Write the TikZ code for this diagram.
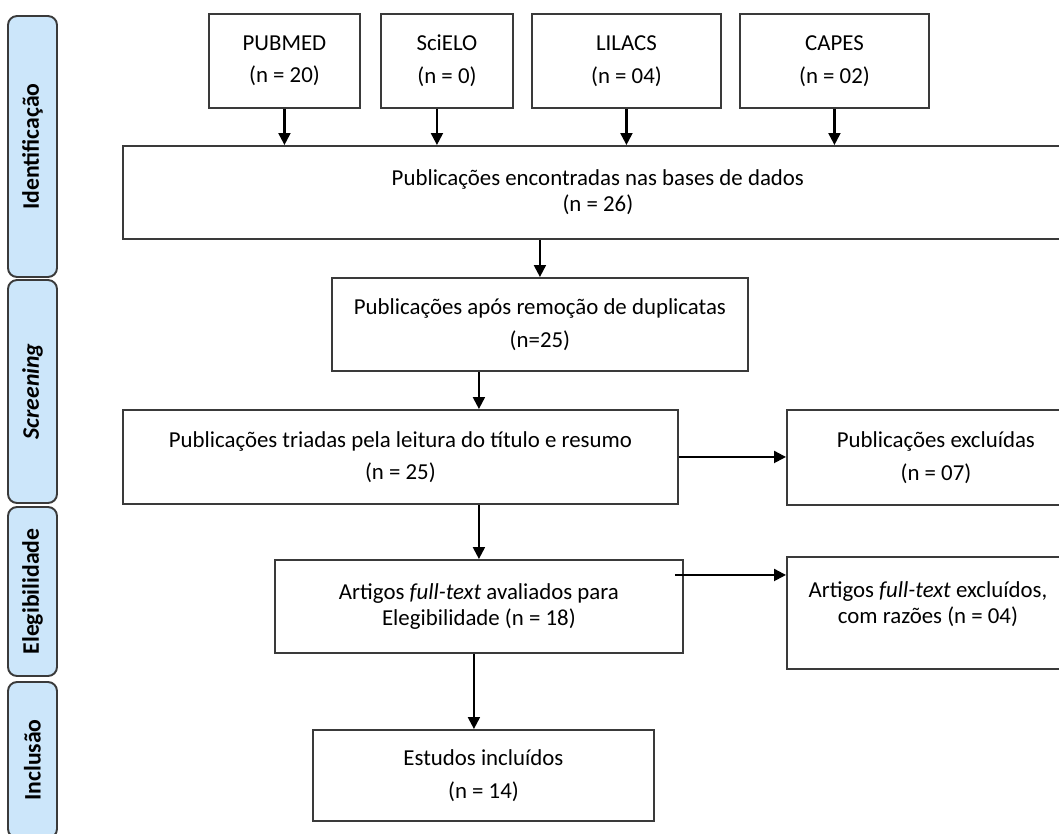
\documentclass[tikz,border=0pt]{standalone}
\usepackage{fontspec}
\setmainfont{Carlito}
\usetikzlibrary{shapes,arrows.meta,positioning}
\definecolor{stagefill}{HTML}{CCE6FA}
\definecolor{boxline}{HTML}{3A3A3A}

\begin{document}
\begin{tikzpicture}[x=0.02cm, y=-0.02cm,
block_box/.style ={rectangle, draw=boxline, line width=1.1pt, fill=white, align=center, anchor=north west, inner sep=0pt, font=\fontsize{13}{18.5}\selectfont},
block_tight/.style ={block_box, font=\fontsize{13}{15}\selectfont},
block_stage/.style ={rectangle, rounded corners=0.18cm, draw=boxline, line width=1.1pt, fill=stagefill, rotate=90, minimum height=0.98cm, inner sep=0pt, font=\fontsize{13.5}{16}\selectfont\bfseries},
line/.style ={draw=black, line width=1.2pt, -{Triangle[length=0.24cm,width=0.24cm]}}]
  \useasboundingbox (0,0) rectangle (1059,833);
  \clip (0,0) rectangle (1059,833);
  % stage bars on the left
    \node [block_stage, minimum width=5.22cm] (st_ident) at (32.5,146.5) {Identificação};
    \node [block_stage, minimum width=4.46cm] (st_screen) at (32.5,391.5) {\textit{Screening}};
    \node [block_stage, minimum width=3.38cm] (st_elig) at (32.5,591.5) {Elegibilidade};
    \node [block_stage, minimum width=3.12cm] (st_incl) at (32.5,760) {Inclusão};
  % identification - row 1
    \node [block_box, minimum width=3.02cm, minimum height=1.88cm] (pubmed) at (208,13) {PUBMED\\(n = 20)};
    \node [block_box, minimum width=2.64cm, minimum height=1.88cm] (scielo) at (380,13) {SciELO\\(n = 0)};
    \node [block_box, minimum width=3.78cm, minimum height=1.88cm] (lilacs) at (531,13) {LILACS\\(n = 04)};
    \node [block_box, minimum width=3.78cm, minimum height=1.88cm] (capes) at (739,13) {CAPES\\(n = 02)};
  % identification - row 2
    \node [block_tight, minimum width=19cm, minimum height=1.86cm] (db) at (122,145) {Publicações encontradas nas bases de dados\\(n = 26)};
  % screening - rows 3 and 4
    \node [block_box, minimum width=8.32cm, minimum height=1.86cm] (dedup) at (331,277) {Publicações após remoção de duplicatas\\(n=25)};
    \node [block_box, minimum width=11.1cm, minimum height=1.88cm] (screen) at (122,409) {Publicações triadas pela leitura do título e resumo\\(n = 25)};
    \node [block_box, minimum width=5.96cm, minimum height=1.9cm] (excl_screen) at (786,409) {Publicações excluídas\\(n = 07)};
  % eligibility - row 5
    \node [block_tight, minimum width=8.16cm, minimum height=1.86cm] (elig) at (274,559) {Artigos \textit{full-text} avaliados para\\Elegibilidade (n = 18)};
    \node [block_tight, minimum width=5.64cm, minimum height=2.24cm] (excl_elig) at (786,556) {Artigos \textit{full-text} excluídos,\\com razões (n = 04)\\[-3pt]\mbox{}};
  % inclusion - row 6
    \node [block_box, minimum width=6.82cm, minimum height=1.82cm] (incl) at (312,729) {Estudos incluídos\\(n = 14)};
  % connecting nodes with paths
    \begin{scope}[every path/.style=line]
      \path (pubmed.south) -- (pubmed.south |- db.north);
      \path ([xshift=-0.2cm]scielo.south) -- ([xshift=-0.2cm]scielo.south |- db.north);
      \path (lilacs.south) -- (lilacs.south |- db.north);
      \path (capes.south)  -- (capes.south |- db.north);
      \path (dedup.north |- db.south) -- (dedup.north);
      \path (dedup.south -| elig.north) -- (screen.north -| elig.north);
      \path (screen.east) -- (screen.east -| excl_screen.west);
      \path (screen.south -| elig.north) -- (elig.north);
      \path ([xshift=-0.18cm,yshift=0.63cm]elig.east) -- ([yshift=0.63cm]elig.east -| excl_elig.west);
      \path ([xshift=-0.19cm]incl.north |- elig.south) -- ([xshift=-0.19cm]incl.north);
    \end{scope}
\end{tikzpicture}
\end{document}
